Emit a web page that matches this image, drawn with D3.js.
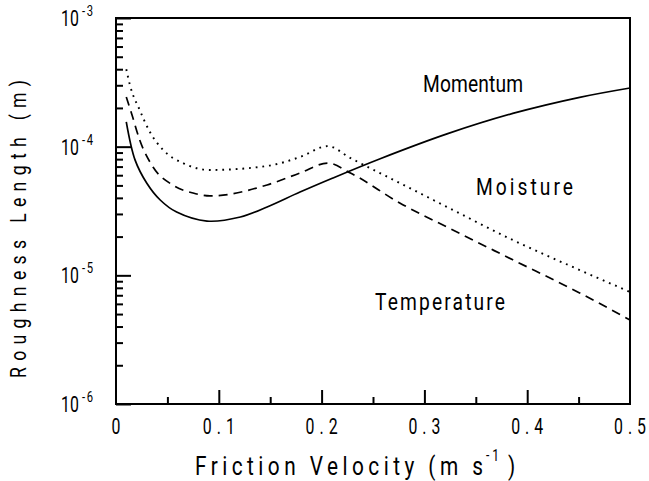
<!DOCTYPE html>
<html>
<head>
<meta charset="utf-8">
<script src="https://cdn.jsdelivr.net/npm/d3@7/dist/d3.min.js"></script>
<style>
  html, body { margin: 0; padding: 0; background: #fff; }
  svg { display: block; }
  text { font-family: Roboto, "Liberation Sans", Arial, sans-serif; font-weight: 400; fill: #000; }
</style>
</head>
<body>
<svg id="chart" width="649" height="481"></svg>
<script>
// Roughness lengths versus friction velocity (u*, m/s)
const momentumU = [0.01, 0.0185, 0.03, 0.043, 0.059, 0.0885, 0.121, 0.147, 0.179, 0.211, 0.257, 0.322, 0.386, 0.451, 0.5];
const momentumZ = [1.56e-4, 7.9e-5, 5.2e-5, 3.85e-5, 3.10e-5, 2.64e-5, 2.84e-5, 3.40e-5, 4.44e-5, 5.71e-5, 8.06e-5, 1.257e-4, 1.813e-4, 2.418e-4, 2.858e-4];

const moistureU = [0.01, 0.0136, 0.023, 0.033, 0.046, 0.065, 0.0914, 0.147, 0.179, 0.206, 0.228, 0.276, 0.322, 0.386, 0.451, 0.5];
const moistureZ = [4.0e-4, 3.0e-4, 1.93e-4, 1.30e-4, 9.4e-5, 7.46e-5, 6.59e-5, 7.08e-5, 8.31e-5, 1.01e-4, 8.16e-5, 5.22e-5, 3.40e-5, 1.88e-5, 1.10e-5, 7.43e-6];

const temperatureU = [0.01, 0.0156, 0.023, 0.036, 0.055, 0.075, 0.0914, 0.147, 0.179, 0.206, 0.228, 0.276, 0.322, 0.386, 0.451, 0.5];
const temperatureZ = [2.43e-4, 1.76e-4, 1.13e-4, 6.95e-5, 5.04e-5, 4.36e-5, 4.14e-5, 5.04e-5, 6.24e-5, 7.46e-5, 6.24e-5, 3.65e-5, 2.37e-5, 1.32e-5, 7.3e-6, 4.5e-6];

const xMajorTicks = [0, 0.1, 0.2, 0.3, 0.4, 0.5];
const xTickLabels = ["0", "0.1", "0.2", "0.3", "0.4", "0.5"];
const xMinorTicks = [0.05, 0.15, 0.25, 0.35, 0.45];
const yMajorTicks = [1e-6, 1e-5, 1e-4, 1e-3];
const yTickExponents = ["-6", "-5", "-4", "-3"];

const svg = d3.select("#chart");
const plotLeft = 116, plotRight = 630, plotTop = 18, plotBottom = 404;

const x = d3.scaleLinear().domain([0, 0.5]).range([plotLeft, plotRight]);
const y = d3.scaleLog().domain([1e-6, 1e-3]).range([plotBottom, plotTop]);

// minor decade ticks 2..9 x 10^n
const yMinorTicks = [];
[1e-6, 1e-5, 1e-4].forEach(d => { for (let k = 2; k <= 9; k++) yMinorTicks.push(k * d); });

function styleAxis(g) {
  g.select(".domain").remove();
  g.selectAll(".tick line").attr("stroke", "#000").attr("stroke-width", 2);
  g.selectAll(".tick text").remove();
}

// bottom axis ticks, pointing into the plot
svg.append("g").attr("transform", `translate(0,${plotBottom})`)
  .call(d3.axisBottom(x).tickValues(xMajorTicks.slice(1, -1)).tickSize(-14).tickFormat(""))
  .call(styleAxis);
svg.append("g").attr("transform", `translate(0,${plotBottom})`)
  .call(d3.axisBottom(x).tickValues(xMinorTicks).tickSize(-7).tickFormat(""))
  .call(styleAxis);

// left axis ticks, pointing into the plot
svg.append("g").attr("transform", `translate(${plotLeft},0)`)
  .call(d3.axisLeft(y).tickValues(yMajorTicks).tickSize(-15).tickFormat(""))
  .call(styleAxis);
svg.append("g").attr("transform", `translate(${plotLeft},0)`)
  .call(d3.axisLeft(y).tickValues(yMinorTicks).tickSize(-7).tickFormat(""))
  .call(styleAxis);

// frame
svg.append("rect")
  .attr("x", plotLeft).attr("y", plotTop)
  .attr("width", plotRight - plotLeft).attr("height", plotBottom - plotTop)
  .attr("fill", "none").attr("stroke", "#000").attr("stroke-width", 2);

// condensed, letter-spaced text: glyphs narrowed by sx, then spread to a set width
function label(txt, px, py, size, len, sx, rotate) {
  const t = svg.append("text")
    .attr("transform", `translate(${px},${py})${rotate ? " rotate(-90)" : ""} scale(${sx},1)`)
    .attr("font-size", size)
    .text(txt);
  if (len) t.attr("textLength", len / sx).attr("lengthAdjust", "spacing");
  return t;
}

// x tick labels
xMajorTicks.forEach((v, i) => {
  const t = xTickLabels[i];
  if (t.length === 1) {
    label(t, x(v), 434, 22, null, 0.72).attr("text-anchor", "middle");
  } else {
    label(t, x(v) - 16, 434, 22, 32, 0.72);
  }
});

// y tick labels: 10 with superscript exponent
yMajorTicks.forEach((v, i) => {
  label("10", 61, y(v) + 8, 22, 18, 0.72);
  label(yTickExponents[i], 82, y(v) - 2, 15, 11, 0.75);
});

// axis titles
label("Friction Velocity (m s", 195, 475, 26, 288, 0.8);
label("-1", 486, 461, 16, 13, 0.75);
label(")", 508, 475, 26, null, 0.8);
label("Roughness Length (m)", 26, 378, 22, 298, 0.8, true);

// curves
const smoothLine = d3.line()
  .x(d => x(d[0]))
  .y(d => y(d[1]))
  .curve(d3.curveCatmullRom.alpha(0.5));
const peakLine = d3.line()
  .x(d => x(d[0]))
  .y(d => y(d[1]))
  .curve(d3.curveMonotoneX);

const series = [
  { u: momentumU, z: momentumZ, dash: null, width: 1.7, gen: smoothLine },
  { u: temperatureU, z: temperatureZ, dash: "9,6", width: 1.7, gen: peakLine },
  { u: moistureU, z: moistureZ, dash: "1.8,4.9", width: 1.9, gen: peakLine }
];

series.forEach(s => {
  svg.append("path")
    .datum(d3.zip(s.u, s.z))
    .attr("d", s.gen)
    .attr("fill", "none")
    .attr("stroke", "#000")
    .attr("stroke-width", s.width)
    .attr("stroke-dasharray", s.dash);
});

// curve annotations
label("Momentum", 423, 92, 24, 100, 0.8);
label("Moisture", 476, 195, 24, 97, 0.8);
label("Temperature", 375, 310, 24, 130, 0.8);
</script>
</body>
</html>
